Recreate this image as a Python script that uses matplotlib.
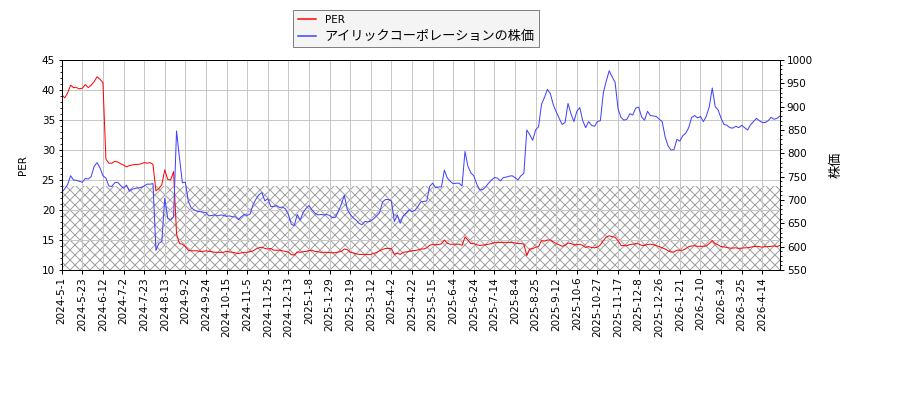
import numpy as np
import matplotlib
matplotlib.use("Agg")
import matplotlib.pyplot as plt
from matplotlib.ticker import AutoMinorLocator, MultipleLocator

plt.rcParams['font.family'] = ['DejaVu Sans', 'Noto Sans CJK JP']
plt.rcParams['hatch.linewidth'] = 0.6

# one sample every 2 trading days, 2024-05-01 .. 2026-04
per_values = [
    39.2, 38.7, 39.5, 40.8, 40.4, 40.4, 40.2, 40.3, 40.9, 40.4, 40.8, 41.4, 42.2, 41.8, 41.2,
    28.5, 27.8, 27.8, 28.1, 28.0, 27.7, 27.5, 27.2, 27.4, 27.5, 27.6, 27.6, 27.7, 27.9, 27.8,
    27.9, 27.6, 23.2, 23.6, 24.2, 26.7, 25.1, 25.0, 26.4, 16.0, 14.4, 14.3,
    13.9, 13.3, 13.2, 13.2, 13.2, 13.1, 13.1, 13.2, 13.1, 13.05,
    12.95, 12.95, 12.95, 12.95, 13.1, 13.0, 12.95, 12.85, 12.75, 12.85,
    12.95, 12.95, 13.05, 13.2, 13.5, 13.7, 13.8, 13.6, 13.5, 13.6,
    13.3, 13.3, 13.3, 13.2, 13.1, 13.0, 12.55, 12.5, 13.0, 12.95,
    13.05, 13.1, 13.25, 13.3, 13.1, 13.05, 12.95, 12.95, 12.95, 12.9,
    12.85, 12.9, 13.0, 13.1, 13.5, 13.4, 12.95, 12.85, 12.7, 12.6,
    12.6, 12.6, 12.6, 12.6, 12.75, 12.95, 13.2, 13.45, 13.6, 13.6,
    13.6, 12.6, 12.8, 12.6, 12.95, 13.0, 13.1, 13.2, 13.25, 13.35, 13.5, 13.5,
    13.7, 14.1, 14.3, 14.2, 14.25, 14.35, 15.0, 14.45, 14.3, 14.3,
    14.3, 14.3, 14.1, 15.5, 15.0, 14.4, 14.4, 14.2, 14.1, 14.15,
    14.2, 14.3, 14.4, 14.6, 14.6, 14.6, 14.6, 14.6, 14.6, 14.6,
    14.5, 14.4, 14.4, 14.3, 12.4, 13.5, 13.55, 13.8, 13.9, 14.9, 14.8,
    15.0, 15.0, 14.7, 14.4, 14.2, 13.95, 14.1, 14.5, 14.4, 14.2,
    14.2, 14.3, 14.1, 13.75, 13.9, 13.75, 13.7, 13.8, 14.2, 14.9,
    15.5, 15.7, 15.55, 15.45, 14.9, 14.1, 14.05, 14.05, 14.25, 14.3,
    14.4, 14.35, 14.1, 14.1, 14.25, 14.3, 14.2, 14.05, 13.9, 13.7,
    13.5, 13.2, 13.0, 13.0, 13.3, 13.3, 13.3, 13.55, 13.9, 14.0,
    14.05, 13.95, 13.95, 13.95, 14.0, 14.4, 14.9, 14.4, 14.2, 13.9,
    13.85, 13.75, 13.65, 13.65, 13.7, 13.6, 13.65, 13.7, 13.7, 13.8,
    13.9, 13.95, 13.9, 13.8, 13.9, 13.9, 13.95, 14.0, 13.9, 14.1,
]

price_values = [
    716, 724, 733, 752, 743, 742, 740, 738, 746, 745, 750, 772, 780, 769, 752,
    747, 730, 729, 737, 738, 731, 725, 732, 719, 723, 725, 726, 727, 730, 734,
    734, 735, 592, 607, 611, 704, 661, 657, 664, 848, 790, 737,
    738, 697, 683, 679, 676, 675, 674, 673, 666, 667,
    668, 666, 668, 667, 665, 666, 664, 664, 658, 664,
    669, 667, 670, 690, 702, 711, 716, 698, 703, 686,
    686, 688, 684, 685, 681, 669, 648, 645, 669, 657,
    673, 682, 688, 679, 672, 668, 669, 668, 669, 667,
    662, 663, 676, 691, 710, 680, 669, 662, 657, 650,
    647, 654, 653, 655, 660, 666, 673, 696, 701, 701,
    698, 654, 668, 650, 666, 672, 679, 675, 678, 686, 696, 697,
    698, 729, 736, 726, 728, 728, 764, 747, 740, 735,
    736, 736, 730, 804, 772, 758, 752, 734, 722, 722,
    728, 736, 743, 748, 747, 741, 748, 749, 751, 752,
    748, 743, 752, 757, 850, 840, 828, 850, 857, 905, 920,
    937, 928, 904, 889, 875, 862, 866, 907, 885, 868,
    890, 898, 870, 855, 868, 860, 858, 868, 870, 930,
    955, 977, 964, 952, 895, 877, 871, 873, 885, 882,
    897, 899, 878, 871, 890, 881, 880, 879, 873, 868,
    835, 816, 807, 808, 830, 826, 838, 843, 855, 877,
    881, 876, 879, 868, 880, 900, 940, 900, 893, 875,
    862, 860, 855, 854, 858, 855, 860, 855, 850, 861,
    868, 875, 870, 866, 866, 870, 877, 873, 875, 880,
]

tick_labels = [
    "2024-5-1", "2024-5-23", "2024-6-12", "2024-7-2", "2024-7-23", "2024-8-13",
    "2024-9-2", "2024-9-24", "2024-10-15", "2024-11-5", "2024-11-25", "2024-12-13",
    "2025-1-8", "2025-1-29", "2025-2-19", "2025-3-12", "2025-4-2", "2025-4-22",
    "2025-5-15", "2025-6-4", "2025-6-24", "2025-7-14", "2025-8-4", "2025-8-25",
    "2025-9-12", "2025-10-6", "2025-10-27", "2025-11-17", "2025-12-8", "2025-12-26",
    "2026-1-21", "2026-2-10", "2026-3-4", "2026-3-25", "2026-4-14",
]
samples_per_tick = 7
band_low, band_high = 0, 24

fs = 6.2
fs_cjk = 7.9
fig = plt.figure(figsize=(7.5, 10 / 3), dpi=120)
ax = fig.add_axes([0.0686, 0.325, 0.798, 0.525])
ax2 = ax.twinx()

n = len(per_values)
x = np.arange(n)

ax.fill_between(x, band_low, band_high, facecolor='none', edgecolor='#a0a0a0',
                hatch='xxxx', linewidth=0, zorder=0)
l1, = ax.plot(x, per_values, color='red', lw=0.6, label='PER', zorder=3)
l2, = ax2.plot(x, price_values, color='#4040ff', lw=0.6,
               label='アイリックコーポレーションの株価')

ax.set_xlim(0, n - 1)
ax.set_ylim(10, 45)
ax2.set_ylim(550, 1000)
ax.yaxis.set_major_locator(MultipleLocator(5))
ax2.yaxis.set_major_locator(MultipleLocator(50))
ax.yaxis.set_minor_locator(AutoMinorLocator())
ax2.yaxis.set_minor_locator(AutoMinorLocator())

ax.set_xticks(np.arange(len(tick_labels)) * samples_per_tick)
ax.set_xticklabels(tick_labels, rotation=90, fontsize=fs)
ax.tick_params(axis='both', labelsize=fs, length=2.1, width=0.6, pad=2)
ax.tick_params(axis='y', which='minor', length=1.2, width=0.5)
ax2.tick_params(axis='y', labelsize=fs, length=2.1, width=0.6, pad=2)
ax2.tick_params(axis='y', which='minor', length=1.2, width=0.5)

ax.grid(True, color='#c8c8c8', linewidth=0.6)
ax.set_axisbelow(True)
for a in (ax, ax2):
    for s in a.spines.values():
        s.set_linewidth(0.6)

ax.set_ylabel('PER', fontsize=fs, labelpad=8)
ax2.set_ylabel('株価', fontsize=fs_cjk, labelpad=10)

leg = fig.legend(handles=[l1, l2], loc='upper left',
                 bbox_to_anchor=(293 / 900, 1 - 10 / 400), borderaxespad=0,
                 fontsize=fs, fancybox=False, framealpha=1,
                 facecolor='#f4f4f4', edgecolor='#808080',
                 handlelength=1.8, labelspacing=0.5, borderpad=0.45)
leg.get_frame().set_linewidth(0.6)
leg.get_texts()[1].set_fontsize(fs_cjk)
for h in leg.legend_handles:
    h.set_linewidth(0.9)

fig.savefig('out.png', dpi=120)
